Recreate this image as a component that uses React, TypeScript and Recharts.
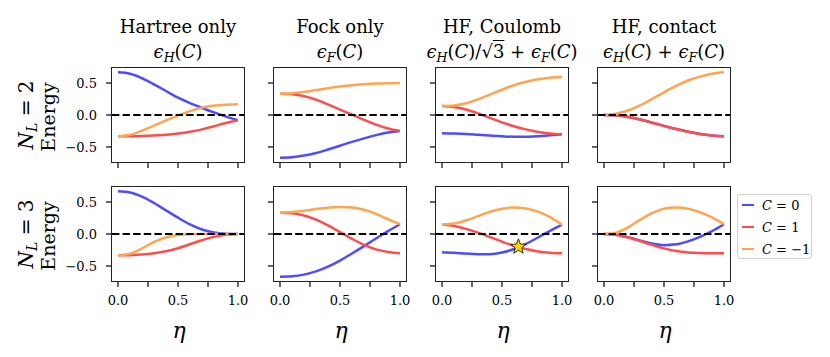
import React from 'react';
import { LineChart, Line, XAxis, YAxis, ReferenceLine, ReferenceDot } from 'recharts';

const eta = [0, 0.1, 0.2, 0.3, 0.4, 0.5, 0.6, 0.7, 0.8, 0.9, 1.0];

// N_L = 2
const hartreeN2C0 = [0.667, 0.645, 0.575, 0.48, 0.375, 0.27, 0.185, 0.11, 0.04, -0.025, -0.083];
const hartreeN2C1 = [-0.333, -0.333, -0.33, -0.322, -0.31, -0.29, -0.262, -0.225, -0.175, -0.125, -0.083];
const hartreeN2Cm1 = [-0.333, -0.31, -0.245, -0.165, -0.085, -0.01, 0.06, 0.115, 0.148, 0.162, 0.167];

const fockN2C0 = [-0.667, -0.66, -0.635, -0.595, -0.54, -0.48, -0.42, -0.365, -0.315, -0.275, -0.25];
const fockN2C1 = [0.333, 0.325, 0.295, 0.24, 0.165, 0.085, 0.005, -0.075, -0.15, -0.21, -0.25];
const fockN2Cm1 = [0.333, 0.34, 0.36, 0.39, 0.42, 0.445, 0.465, 0.48, 0.492, 0.498, 0.5];

const coulombN2C0 = [-0.286, -0.29, -0.298, -0.31, -0.322, -0.333, -0.34, -0.34, -0.332, -0.317, -0.3];
const coulombN2C1 = [0.14, 0.125, 0.085, 0.025, -0.045, -0.115, -0.175, -0.225, -0.265, -0.288, -0.3];
const coulombN2Cm1 = [0.14, 0.15, 0.185, 0.245, 0.32, 0.395, 0.465, 0.52, 0.558, 0.583, 0.594];

const contactN2C0 = [0, -0.005, -0.03, -0.07, -0.12, -0.17, -0.22, -0.262, -0.297, -0.32, -0.333];
const contactN2C1 = [0, -0.005, -0.03, -0.07, -0.12, -0.17, -0.22, -0.262, -0.297, -0.32, -0.333];
const contactN2Cm1 = [0, 0.02, 0.07, 0.15, 0.25, 0.355, 0.455, 0.54, 0.6, 0.645, 0.667];

// N_L = 3
const hartreeN3C0 = [0.667, 0.65, 0.585, 0.485, 0.37, 0.255, 0.15, 0.07, 0.022, 0.004, 0];
const hartreeN3C1 = [-0.333, -0.331, -0.322, -0.302, -0.27, -0.222, -0.16, -0.097, -0.045, -0.012, 0];
const hartreeN3Cm1 = [-0.333, -0.31, -0.225, -0.125, -0.055, -0.015, -0.002, 0, 0, 0, 0];

const fockN3C0 = [-0.667, -0.66, -0.635, -0.585, -0.51, -0.415, -0.305, -0.19, -0.07, 0.045, 0.153];
const fockN3C1 = [0.333, 0.325, 0.29, 0.225, 0.135, 0.03, -0.075, -0.17, -0.24, -0.28, -0.3];
const fockN3Cm1 = [0.333, 0.343, 0.365, 0.39, 0.41, 0.422, 0.415, 0.38, 0.315, 0.232, 0.153];

const coulombN3C0 = [-0.284, -0.293, -0.306, -0.316, -0.315, -0.29, -0.235, -0.155, -0.055, 0.05, 0.147];
const coulombN3C1 = [0.147, 0.125, 0.08, 0.022, -0.048, -0.12, -0.185, -0.235, -0.272, -0.292, -0.3];
const coulombN3Cm1 = [0.147, 0.163, 0.212, 0.28, 0.348, 0.395, 0.415, 0.4, 0.35, 0.265, 0.147];

const contactN3C0 = [0, -0.01, -0.05, -0.1, -0.148, -0.175, -0.162, -0.115, -0.045, 0.045, 0.153];
const contactN3C1 = [0, -0.01, -0.055, -0.11, -0.17, -0.225, -0.265, -0.288, -0.297, -0.3, -0.3];
const contactN3Cm1 = [0, 0.02, 0.105, 0.22, 0.325, 0.395, 0.415, 0.395, 0.34, 0.26, 0.153];

const panelSeries = [
  [
    [hartreeN2C0, hartreeN2C1, hartreeN2Cm1],
    [fockN2C0, fockN2C1, fockN2Cm1],
    [coulombN2C0, coulombN2C1, coulombN2Cm1],
    [contactN2C0, contactN2C1, contactN2Cm1],
  ],
  [
    [hartreeN3C0, hartreeN3C1, hartreeN3Cm1],
    [fockN3C0, fockN3C1, fockN3Cm1],
    [coulombN3C0, coulombN3C1, coulombN3Cm1],
    [contactN3C0, contactN3C1, contactN3Cm1],
  ],
];

const colTitles = ['Hartree only', 'Fock only', 'HF, Coulomb', 'HF, contact'];
const rowNL = [2, 3];
const xTicks = [0, 0.25, 0.5, 0.75, 1];
const xLabelTicks = [0, 0.5, 1];
const yTicks = [-0.5, 0, 0.5];
const starPoint = { eta: 0.637, energy: -0.2 };

const series = [
  { key: 'c0', c: '0', color: '#4d4dff' },
  { key: 'c1', c: '1', color: '#ff4d4d' },
  { key: 'cm1', c: '\u22121', color: '#ffa54f' },
];

const FONT = '"DejaVu Serif", serif';
const PLOT_LEFT = [112, 274, 436, 598];
const PLOT_TOP = [68, 187];
const PLOT_W = 132;
const PLOT_H = 94;

const subStyle: React.CSSProperties = { fontSize: '0.7em', verticalAlign: '-0.3em', lineHeight: 0 };

const Eps = ({ s }: { s: string }) => (
  <>
    <i>ϵ</i>
    <sub style={subStyle}>
      <i>{s}</i>
    </sub>
  </>
);

const formulas = [
  <><Eps s="H" />(<i>C</i>)</>,
  <><Eps s="F" />(<i>C</i>)</>,
  <>
    <Eps s="H" />(<i>C</i>)/√<span style={{ textDecoration: 'overline' }}>3</span> + <Eps s="F" />(<i>C</i>)
  </>,
  <><Eps s="H" />(<i>C</i>) + <Eps s="F" />(<i>C</i>)</>,
];

const fmtY = (v: number) => (v < 0 ? '\u2212' + Math.abs(v).toFixed(1) : v.toFixed(1));

const Star = (props: any) => {
  const { cx, cy } = props;
  const pts: string[] = [];
  for (let i = 0; i < 10; i++) {
    const r = i % 2 === 0 ? 8 : 3.4;
    const a = -Math.PI / 2 + (i * Math.PI) / 5;
    pts.push(`${cx + r * Math.cos(a)},${cy + r * Math.sin(a)}`);
  }
  return <polygon points={pts.join(' ')} fill="#ffd700" stroke="#000" strokeWidth={0.8} />;
};

function Panel({ row, col }: { row: number; col: number }) {
  const [s0, s1, s2] = panelSeries[row][col];
  const data = eta.map((x, i) => ({ eta: x, c0: s0[i], c1: s1[i], cm1: s2[i] }));
  const yW = col === 0 ? 50 : 8;
  const xH = row === 1 ? 34 : 8;
  const rightPad = 14;
  const left = PLOT_LEFT[col];
  const top = PLOT_TOP[row];
  const tickStyle = { fontFamily: FONT, fontSize: 13, fill: '#000' };
  return (
    <>
      <div style={{ position: 'absolute', left: left - yW, top }}>
        <LineChart
          width={PLOT_W + yW + rightPad}
          height={PLOT_H + xH}
          data={data}
          margin={{ top: 0, right: rightPad, bottom: 0, left: 0 }}
        >
          <XAxis
            dataKey="eta"
            type="number"
            domain={[-0.05, 1.05]}
            ticks={xTicks}
            allowDataOverflow
            axisLine={false}
            tickLine={{ stroke: '#000', strokeWidth: 1.2 }}
            tickSize={6}
            tickMargin={9}
            height={xH}
            tick={tickStyle}
            interval={0}
            tickFormatter={(v: number) => (row === 1 && xLabelTicks.includes(v) ? v.toFixed(1) : '')}
          />
          <YAxis
            type="number"
            domain={[-0.735, 0.735]}
            ticks={yTicks}
            allowDataOverflow
            axisLine={false}
            tickLine={{ stroke: '#000', strokeWidth: 1.2 }}
            tickSize={6}
            tickMargin={9}
            width={yW}
            tick={tickStyle}
            interval={0}
            tickFormatter={(v: number) => (col === 0 ? fmtY(v) : '')}
          />
          {series.map((s) => (
            <Line
              key={s.key}
              dataKey={s.key}
              type="monotone"
              stroke={s.color}
              strokeWidth={2.5}
              dot={false}
              isAnimationActive={false}
            />
          ))}
          <ReferenceLine y={0} stroke="#000" strokeWidth={2} strokeDasharray="7.4 3.2" />
          {row === 1 && col === 2 && (
            <ReferenceDot x={starPoint.eta} y={starPoint.energy} r={8} shape={Star} />
          )}
        </LineChart>
      </div>
      <div
        style={{
          position: 'absolute',
          left: left - 0.75,
          top: top - 0.75,
          width: PLOT_W + 1.5,
          height: PLOT_H + 1.5,
          border: '1.5px solid #222',
          boxSizing: 'border-box',
          pointerEvents: 'none',
        }}
      />
    </>
  );
}

export default function App() {
  return (
    <div
      style={{
        position: 'absolute',
        left: 0,
        top: 0,
        width: 830,
        height: 357,
        background: '#fff',
        fontFamily: FONT,
        color: '#000',
      }}
    >
      {colTitles.map((t, c) => (
        <div
          key={t}
          style={{
            position: 'absolute',
            left: PLOT_LEFT[c] + PLOT_W / 2 - 110,
            top: 15,
            width: 220,
            textAlign: 'center',
            fontSize: 18,
            lineHeight: '24.5px',
            whiteSpace: 'nowrap',
          }}
        >
          <div>{t}</div>
          <div>{formulas[c]}</div>
        </div>
      ))}

      {rowNL.map((n, r) => (
        <React.Fragment key={n}>
          <div
            style={{
              position: 'absolute',
              left: 25.5,
              top: PLOT_TOP[r] + PLOT_H / 2,
              transform: 'translate(-50%, -50%) rotate(-90deg)',
              whiteSpace: 'nowrap',
              fontSize: 20,
            }}
          >
            <i>N</i>
            <sub style={subStyle}>
              <i>L</i>
            </sub>{' '}
            = {n}
          </div>
          <div
            style={{
              position: 'absolute',
              left: 48,
              top: PLOT_TOP[r] + PLOT_H / 2 + 2,
              transform: 'translate(-50%, -50%) rotate(-90deg)',
              whiteSpace: 'nowrap',
              fontSize: 19,
            }}
          >
            Energy
          </div>
        </React.Fragment>
      ))}

      {panelSeries.map((rowPanels, r) =>
        rowPanels.map((_, c) => <Panel key={`${r}-${c}`} row={r} col={c} />)
      )}

      {colTitles.map((t, c) => (
        <div
          key={'eta' + t}
          style={{
            position: 'absolute',
            left: PLOT_LEFT[c] + PLOT_W / 2 + 1,
            top: 330,
            transform: 'translate(-50%, -50%)',
            fontSize: 22,
            fontStyle: 'italic',
          }}
        >
          η
        </div>
      ))}

      <div
        style={{
          position: 'absolute',
          left: 737,
          top: 194,
          width: 75,
          height: 65,
          border: '1px solid #d0d0d0',
          borderRadius: 3,
          boxSizing: 'border-box',
          background: '#fff',
        }}
      >
        {series.map((s, i) => (
          <div
            key={s.key}
            style={{
              position: 'absolute',
              left: 4,
              top: 10 + i * 22 - 9,
              height: 18,
              display: 'flex',
              alignItems: 'center',
              fontSize: 13,
              whiteSpace: 'nowrap',
            }}
          >
            <span style={{ display: 'inline-block', width: 12, height: 2.5, background: s.color, marginRight: 8 }} />
            <span>
              <i>C</i> = {s.c}
            </span>
          </div>
        ))}
      </div>
    </div>
  );
}
